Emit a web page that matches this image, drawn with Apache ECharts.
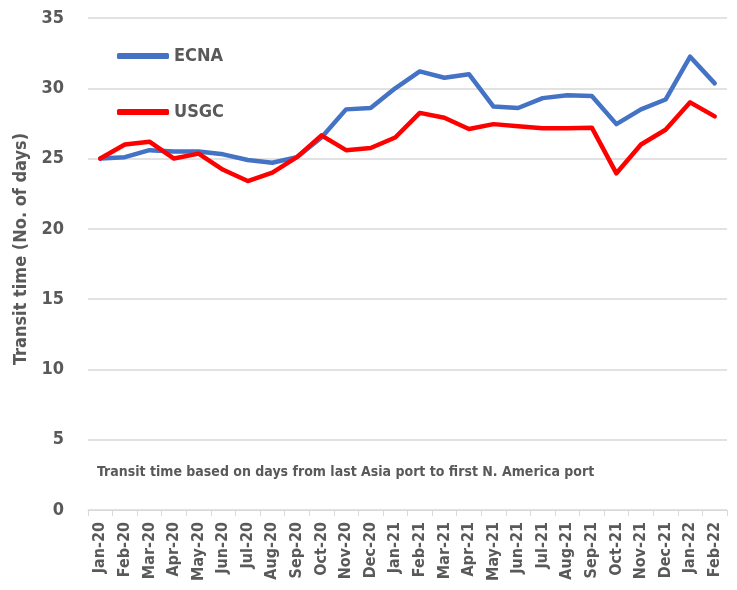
<!DOCTYPE html>
<html>
<head>
<meta charset="utf-8">
<script src="https://cdn.jsdelivr.net/npm/echarts@6/dist/echarts.min.js"></script>
<style>
  html, body { margin: 0; padding: 0; background: #fff; }
  #chart { width: 737px; height: 590px; }
</style>
</head>
<body>
<div id="chart"></div>
<script>
const months = ['Jan-20', 'Feb-20', 'Mar-20', 'Apr-20', 'May-20', 'Jun-20', 'Jul-20', 'Aug-20', 'Sep-20',
  'Oct-20', 'Nov-20', 'Dec-20', 'Jan-21', 'Feb-21', 'Mar-21', 'Apr-21', 'May-21', 'Jun-21', 'Jul-21',
  'Aug-21', 'Sep-21', 'Oct-21', 'Nov-21', 'Dec-21', 'Jan-22', 'Feb-22']
const ecna = [25.0, 25.1, 25.6, 25.5, 25.5, 25.3, 24.9, 24.7, 25.1, 26.5, 28.5, 28.6, 30.0,
  31.2, 30.75, 31.0, 28.7, 28.6, 29.3, 29.5, 29.45, 27.45, 28.5, 29.2, 32.25, 30.35]
const usgc = [25.0, 26.0, 26.2, 25.0, 25.35, 24.2, 23.4, 24.0, 25.1, 26.65, 25.6, 25.75, 26.5,
  28.25, 27.9, 27.1, 27.45, 27.3, 27.15, 27.15, 27.2, 23.95, 26.0, 27.05, 29.0, 28.0]
const yTicks = [0, 5, 10, 15, 20, 25, 30, 35]

// narrow bold text, like the original's condensed face
const font = '"DejaVu Sans", sans-serif'
const stretch = 'condensed'
const grey = '#595959'

const chart = echarts.init(document.getElementById('chart'))

chart.setOption({
  animation: false,
  grid: { left: 88, right: 10, top: 18, bottom: 80 },
  legend: {
    orient: 'vertical',
    left: 112,
    top: 41,
    itemWidth: 52,
    itemHeight: 6,
    itemGap: 36,
    icon: 'roundRect',
    textStyle: { color: grey, fontFamily: font, fontStyle: stretch, fontWeight: 'bold', fontSize: 18, lineHeight: 20 },
    data: ['ECNA', 'USGC'],
  },
  xAxis: {
    type: 'category',
    data: months,
    boundaryGap: true,
    axisLine: { lineStyle: { color: '#d9d9d9', width: 1 } },
    axisTick: { show: true, length: 6, lineStyle: { color: '#d9d9d9' } },
    axisLabel: {
      interval: 0,
      rotate: 90,
      color: grey,
      fontFamily: font,
      fontStyle: stretch,
      fontWeight: 'bold',
      fontSize: 16,
      margin: 12,
    },
  },
  yAxis: {
    type: 'value',
    min: yTicks[0],
    max: yTicks[yTicks.length - 1],
    interval: 5,
    name: 'Transit time (No. of days)',
    nameLocation: 'middle',
    nameGap: 54,
    nameTextStyle: { color: grey, fontFamily: font, fontStyle: stretch, fontWeight: 'bold', fontSize: 18, padding: [0, 0, 0, 30] },
    axisLine: { show: false },
    axisTick: { show: false },
    axisLabel: { color: grey, fontFamily: font, fontStyle: stretch, fontWeight: 'bold', fontSize: 18, margin: 24 },
    splitLine: { lineStyle: { color: '#d9d9d9', width: 1.5 } },
  },
  graphic: [{
    type: 'text',
    left: 97,
    top: 465,
    style: {
      text: 'Transit time based on days from last Asia port to first N. America port',
      fill: grey,
      font: stretch + ' bold 14px ' + font,
    },
  }],
  series: [
    {
      name: 'ECNA',
      type: 'line',
      data: ecna,
      symbol: 'none',
      color: '#4472c4',
      lineStyle: { width: 4.5, color: '#4472c4', cap: 'round', join: 'round' },
    },
    {
      name: 'USGC',
      type: 'line',
      data: usgc,
      symbol: 'none',
      color: '#ff0000',
      lineStyle: { width: 4.5, color: '#ff0000', cap: 'round', join: 'round' },
    },
  ],
})
</script>
</body>
</html>
